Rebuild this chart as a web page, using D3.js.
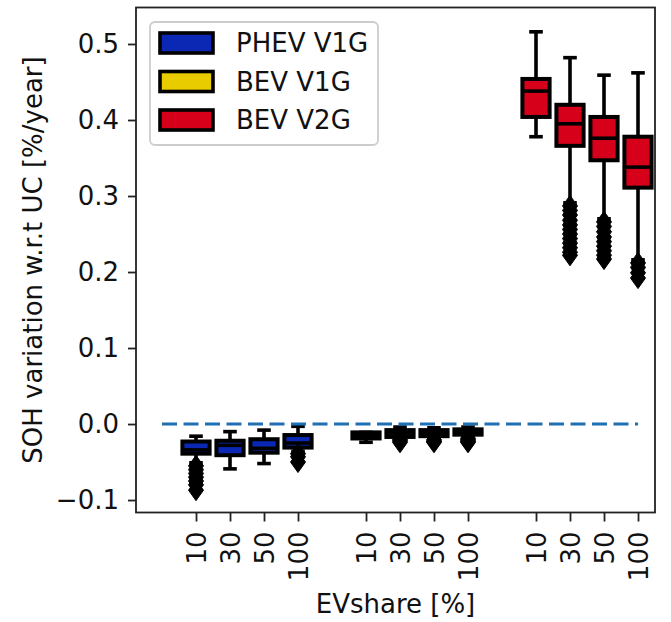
<!DOCTYPE html>
<html>
<head>
<meta charset="utf-8">
<script src="https://cdn.jsdelivr.net/npm/d3@7"></script>
<style>
  html, body { margin: 0; padding: 0; background: #fff; }
  svg { display: block; font-family: "DejaVu Sans", sans-serif; }
</style>
</head>
<body>
<svg id="chart" width="671" height="622"></svg>
<script>
// ---- data ----
const groups = ["PHEV V1G", "BEV V1G", "BEV V2G"];
const groupColors = ["#0a28b4", "#e8cc00", "#d7001a"];
const evShares = ["10", "30", "50", "100"];
// one entry per box: PHEV 10,30,50,100 | BEV V1G 10,30,50,100 | BEV V2G 10,30,50,100
const whiskerHigh = [-0.016, -0.010, -0.008, -0.003, -0.011, -0.004, -0.005, -0.004, 0.516, 0.482, 0.459, 0.462];
const q3          = [-0.023, -0.022, -0.020, -0.0145, -0.011, -0.008, -0.008, -0.007, 0.454, 0.420, 0.404, 0.378];
const median      = [-0.034, -0.028, -0.032, -0.025, -0.015, -0.012, -0.012, -0.010, 0.438, 0.395, 0.376, 0.338];
const q1          = [-0.039, -0.041, -0.0377, -0.031, -0.019, -0.017, -0.016, -0.014, 0.404, 0.366, 0.347, 0.311];
const whiskerLow  = [-0.051, -0.059, -0.052, -0.036, -0.024, -0.018, -0.019, -0.017, 0.378, 0.291, 0.270, 0.216];
const fliers = [
  [-0.055, -0.060, -0.065, -0.070, -0.075, -0.080, -0.087],
  [],
  [],
  [-0.039, -0.043, -0.050],
  [],
  [-0.020, -0.022, -0.024],
  [-0.021, -0.023, -0.024],
  [-0.019, -0.021, -0.023, -0.024],
  [],
  [0.287, 0.281, 0.275, 0.268, 0.262, 0.256, 0.250, 0.244, 0.238, 0.232, 0.226, 0.222],
  [0.266, 0.260, 0.253, 0.246, 0.240, 0.234, 0.228, 0.222, 0.217],
  [0.212, 0.206, 0.199, 0.192]
];
const yTicks = [-0.1, 0.0, 0.1, 0.2, 0.3, 0.4, 0.5];
const refLineValue = 0.0;

// ---- layout ----
const svg = d3.select("#chart");
const L = 136, R = 655, T = 7.5, B = 512.5;
const FS = 26;

const x = d3.scaleLinear().domain([-0.765, 14.5]).range([L, R]);
const y = d3.scaleLinear().domain([-0.1164, 0.548]).range([B, T]);

const boxes = [];
groups.forEach((g, gi) => {
  evShares.forEach((s, si) => {
    const i = gi * 4 + si;
    boxes.push({
      group: g, share: s, color: groupColors[gi],
      pos: gi * 5 + si + 1,
      lo: whiskerLow[i], q1: q1[i], med: median[i], q3: q3[i], hi: whiskerHigh[i],
      fl: fliers[i]
    });
  });
});

const boxW = x(0.8) - x(0);
const capW = boxW / 2;
const LW = 3.6;

const gBox = svg.append("g");
boxes.forEach(b => {
  const cx = x(b.pos);
  const g = gBox.append("g");
  g.append("line").attr("x1", cx).attr("x2", cx).attr("y1", y(b.q3)).attr("y2", y(b.hi))
    .attr("stroke", "#000").attr("stroke-width", LW);
  g.append("line").attr("x1", cx).attr("x2", cx).attr("y1", y(b.q1)).attr("y2", y(b.lo))
    .attr("stroke", "#000").attr("stroke-width", LW);
  [b.hi, b.lo].forEach(v => {
    g.append("line").attr("x1", cx - capW / 2).attr("x2", cx + capW / 2)
      .attr("y1", y(v)).attr("y2", y(v))
      .attr("stroke", "#000").attr("stroke-width", LW);
  });
  g.append("rect").attr("x", cx - boxW / 2).attr("width", boxW)
    .attr("y", y(b.q3)).attr("height", Math.max(0.1, y(b.q1) - y(b.q3)))
    .attr("fill", b.color).attr("stroke", "#000").attr("stroke-width", 4);
  g.append("line").attr("x1", cx - boxW / 2).attr("x2", cx + boxW / 2)
    .attr("y1", y(b.med)).attr("y2", y(b.med))
    .attr("stroke", "#000").attr("stroke-width", LW);
  const hw = 7.5, hh = 10.5;
  b.fl.forEach(v => {
    const cy = y(v);
    g.append("path")
      .attr("d", `M${cx},${cy - hh}L${cx + hw},${cy}L${cx},${cy + hh}L${cx - hw},${cy}Z`)
      .attr("fill", "#000").attr("stroke", "#000").attr("stroke-width", 1);
  });
});

// reference dashed line
svg.append("line")
  .attr("x1", x(0)).attr("x2", x(14))
  .attr("y1", y(refLineValue)).attr("y2", y(refLineValue))
  .attr("stroke", "#1f6fb4").attr("stroke-width", 3)
  .attr("stroke-dasharray", "15,6.5");

// ---- axes ----
const yAxis = d3.axisLeft(y).tickValues(yTicks)
  .tickFormat(d => d3.format(".1f")(d).replace("-", "\u2212"))
  .tickSize(8).tickPadding(9);
const gy = svg.append("g").attr("transform", `translate(${L},0)`).call(yAxis);
gy.select(".domain").remove();
gy.selectAll(".tick line").attr("stroke", "#222").attr("stroke-width", 1.8);
gy.selectAll(".tick text").attr("font-size", FS).attr("fill", "#111")
  .attr("font-family", "DejaVu Sans");

const xTickPos = boxes.map(b => b.pos);
const xAxis = d3.axisBottom(x).tickValues(xTickPos)
  .tickFormat((d, i) => boxes[i].share).tickSize(9).tickPadding(0);
const gx = svg.append("g").attr("transform", `translate(0,${B})`).call(xAxis);
gx.select(".domain").remove();
gx.selectAll(".tick line").attr("stroke", "#222").attr("stroke-width", 1.8);
gx.selectAll(".tick text")
  .attr("font-size", FS).attr("fill", "#111").attr("font-family", "DejaVu Sans")
  .attr("text-anchor", "end").attr("dy", null)
  .attr("dominant-baseline", "central")
  .attr("transform", "translate(0,19) rotate(-90)")
  .attr("y", 0).attr("x", 0);

// spines
svg.append("rect").attr("x", L).attr("y", T).attr("width", R - L).attr("height", B - T)
  .attr("fill", "none").attr("stroke", "#222").attr("stroke-width", 1.8);

// axis labels
svg.append("text").attr("x", (L + R) / 2).attr("y", 613)
  .attr("text-anchor", "middle").attr("font-size", FS).attr("fill", "#111")
  .text("EVshare [%]");
svg.append("text")
  .attr("transform", `translate(33,${(T + B) / 2}) rotate(-90)`)
  .attr("text-anchor", "middle").attr("dominant-baseline", "central")
  .attr("font-size", FS).attr("fill", "#111")
  .text("SOH variation w.r.t UC [%/year]");

// legend
const lg = svg.append("g");
lg.append("rect").attr("x", 150).attr("y", 22).attr("width", 228).attr("height", 123)
  .attr("rx", 5).attr("fill", "#fff").attr("fill-opacity", 0.8)
  .attr("stroke", "#cccccc").attr("stroke-width", 1.8);
groups.forEach((g, i) => {
  const cy = 43 + i * 38.5;
  lg.append("rect").attr("x", 160).attr("y", cy - 10).attr("width", 53).attr("height", 20)
    .attr("fill", groupColors[i]).attr("stroke", "#000").attr("stroke-width", LW);
  lg.append("text").attr("x", 236).attr("y", cy).attr("dominant-baseline", "central")
    .attr("font-size", FS).attr("fill", "#111").text(g);
});
</script>
</body>
</html>
